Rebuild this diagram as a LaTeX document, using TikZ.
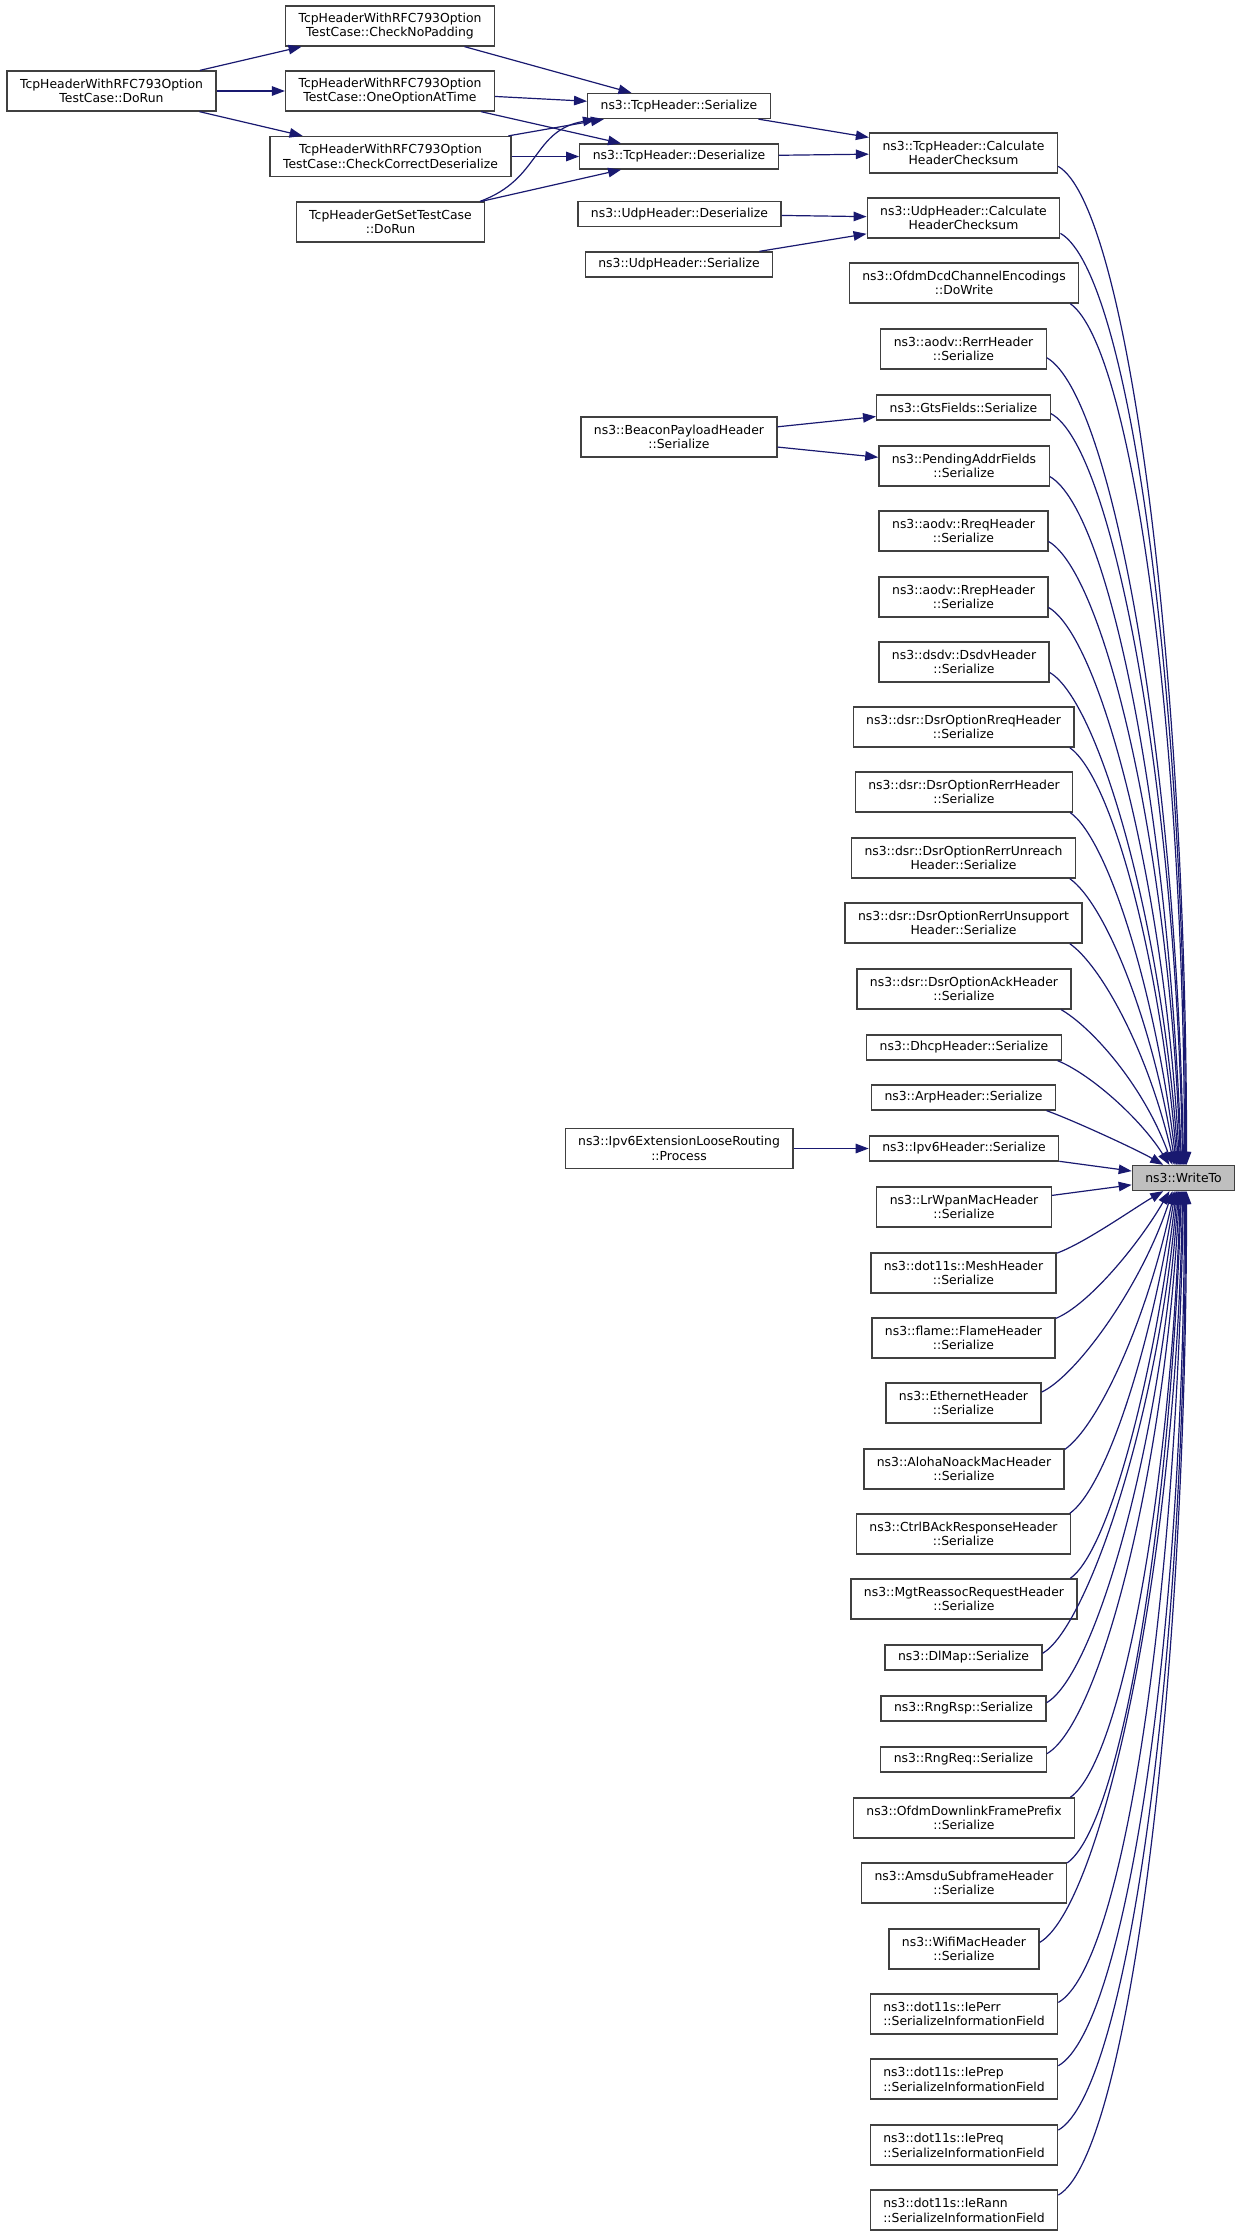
\documentclass[tikz,border=0pt]{standalone}
\usepackage{fontspec}
\setmainfont{DejaVu Sans}
\usepackage{tikz}
\usetikzlibrary{arrows.meta,positioning,calc}
\definecolor{edgeblue}{RGB}{25,25,112}
\definecolor{boxgray}{RGB}{64,64,64}
\tikzset{
    func/.style={draw=boxgray, line width=1.3pt, fill=white, rectangle, inner xsep=13pt, inner ysep=0pt, minimum height=40pt, align=center, font=\fontsize{12.4}{14.7}\selectfont},
    funcone/.style={func, minimum height=25pt},
    funcleft/.style={func, align=left},
    root/.style={funcone, fill=gray!50},
    call/.style={-{Triangle[length=13pt, width=9.5pt]}, edgeblue, line width=1.2pt}
}
\begin{document}
\begin{tikzpicture}[x=1pt, y=1pt]
    \useasboundingbox (0,0) rectangle (1240,-2236);
    \node[func] (dorun) at (111.5,-91) {TcpHeaderWithRFC793Option\\TestCase::DoRun};
    \node[func] (nopad) at (390,-26) {TcpHeaderWithRFC793Option\\TestCase::CheckNoPadding};
    \node[func] (oneopt) at (390,-91) {TcpHeaderWithRFC793Option\\TestCase::OneOptionAtTime};
    \node[func] (correct) at (390.5,-156.5) {TcpHeaderWithRFC793Option\\TestCase::CheckCorrectDeserialize};
    \node[func] (getset) at (390.5,-222) {TcpHeaderGetSetTestCase\\::DoRun};
    \node[funcone] (tcpser) at (679,-106) {ns3::TcpHeader::Serialize};
    \node[funcone] (tcpdes) at (679,-156.5) {ns3::TcpHeader::Deserialize};
    \node[funcone] (udpdes) at (679.5,-214) {ns3::UdpHeader::Deserialize};
    \node[funcone] (udpser) at (679,-264.5) {ns3::UdpHeader::Serialize};
    \node[func] (beacon) at (679,-437) {ns3::BeaconPayloadHeader\\::Serialize};
    \node[func] (ipv6ext) at (679,-1148.5) {ns3::Ipv6ExtensionLooseRouting\\::Process};

    \node[func] (tcpcalc) at (963.5,-153) {ns3::TcpHeader::Calculate\\HeaderChecksum};
    \node[func] (udpcalc) at (963.5,-218) {ns3::UdpHeader::Calculate\\HeaderChecksum};
    \node[func] (ofdmdcd) at (964,-283) {ns3::OfdmDcdChannelEncodings\\::DoWrite};
    \node[func] (rerr) at (963.5,-349) {ns3::aodv::RerrHeader\\::Serialize};
    \node[funcone] (gts) at (963.5,-407.5) {ns3::GtsFields::Serialize};
    \node[func] (pending) at (964,-466) {ns3::PendingAddrFields\\::Serialize};
    \node[func] (rreq) at (963.5,-531) {ns3::aodv::RreqHeader\\::Serialize};
    \node[func] (rrep) at (963.5,-597) {ns3::aodv::RrepHeader\\::Serialize};
    \node[func] (dsdv) at (964,-662) {ns3::dsdv::DsdvHeader\\::Serialize};
    \node[func] (dsrrreq) at (963.5,-727) {ns3::dsr::DsrOptionRreqHeader\\::Serialize};
    \node[func] (dsrrerr) at (964,-792) {ns3::dsr::DsrOptionRerrHeader\\::Serialize};
    \node[func] (unreach) at (963.5,-858) {ns3::dsr::DsrOptionRerrUnreach\\Header::Serialize};
    \node[func] (unsupp) at (963.5,-923) {ns3::dsr::DsrOptionRerrUnsupport\\Header::Serialize};
    \node[func] (dsrack) at (964,-989) {ns3::dsr::DsrOptionAckHeader\\::Serialize};
    \node[funcone] (dhcp) at (964,-1047.5) {ns3::DhcpHeader::Serialize};
    \node[funcone] (arp) at (963.5,-1097.5) {ns3::ArpHeader::Serialize};
    \node[funcone] (ipv6) at (964,-1148.5) {ns3::Ipv6Header::Serialize};
    \node[func] (lrwpan) at (964,-1207) {ns3::LrWpanMacHeader\\::Serialize};
    \node[func] (mesh) at (963.5,-1273) {ns3::dot11s::MeshHeader\\::Serialize};
    \node[func] (flame) at (963.5,-1338) {ns3::flame::FlameHeader\\::Serialize};
    \node[func] (ether) at (963.5,-1403) {ns3::EthernetHeader\\::Serialize};
    \node[func] (aloha) at (964,-1469) {ns3::AlohaNoackMacHeader\\::Serialize};
    \node[func] (ctrlback) at (963.5,-1534) {ns3::CtrlBAckResponseHeader\\::Serialize};
    \node[func] (reassoc) at (964,-1599) {ns3::MgtReassocRequestHeader\\::Serialize};
    \node[funcone] (dlmap) at (963.5,-1657.5) {ns3::DlMap::Serialize};
    \node[funcone] (rngrsp) at (963.5,-1708.5) {ns3::RngRsp::Serialize};
    \node[funcone] (rngreq) at (963.5,-1759.5) {ns3::RngReq::Serialize};
    \node[func] (dlprefix) at (964,-1818) {ns3::OfdmDownlinkFramePrefix\\::Serialize};
    \node[func] (amsdu) at (964,-1883) {ns3::AmsduSubframeHeader\\::Serialize};
    \node[func] (wifimac) at (964,-1949) {ns3::WifiMacHeader\\::Serialize};
    \node[funcleft] (ieperr) at (964,-2014) {ns3::dot11s::IePerr\\::SerializeInformationField};
    \node[funcleft] (ieprep) at (964,-2079) {ns3::dot11s::IePrep\\::SerializeInformationField};
    \node[funcleft] (iepreq) at (964,-2145) {ns3::dot11s::IePreq\\::SerializeInformationField};
    \node[funcleft] (ierann) at (964,-2210) {ns3::dot11s::IeRann\\::SerializeInformationField};

    \node[root] (writeto) at (1183.5,-1178) {ns3::WriteTo};

    \draw[call] (dorun) -- (nopad);
    \draw[call] (dorun) -- (oneopt);
    \draw[call] (dorun) -- (correct);
    \draw[call] (nopad) -- (tcpser);
    \draw[call] (oneopt) -- (tcpser);
    \draw[call] (oneopt) -- (tcpdes);
    \draw[call] (correct) -- (tcpser);
    \draw[call] (correct) -- (tcpdes);
    \draw[call] (getset.13) to[out=20, in=190, distance=65] (tcpser.-171);
    \draw[call] (getset) -- (tcpdes);
    \draw[call] (tcpser) -- (tcpcalc);
    \draw[call] (tcpdes) -- (tcpcalc);
    \draw[call] (udpdes) -- (udpcalc);
    \draw[call] (udpser) -- (udpcalc);
    \draw[call] (beacon) -- (gts);
    \draw[call] (beacon) -- (pending);
    \draw[call] (ipv6ext) -- (ipv6);

    \draw[call] (tcpcalc.-8) to[out=-30, in=90, out distance=80, in distance=500] (writeto.77);
    \draw[call] (udpcalc.-9) to[out=-30, in=90, out distance=80, in distance=470] (writeto.81);
    \draw[call] (ofdmdcd.-11) to[out=-35, in=90, out distance=75, in distance=435] (writeto.86);
    \draw[call] (rerr.-6) to[out=-30, in=91, out distance=75, in distance=405] (writeto.90);
    \draw[call] (gts.-4) to[out=-28, in=91, out distance=70, in distance=375] (writeto.94);
    \draw[call] (pending.-7) to[out=-30, in=92, out distance=70, in distance=345] (writeto.99);
    \draw[call] (rreq.-7) to[out=-30, in=92, out distance=65, in distance=315] (writeto.103);
    \draw[call] (rrep.-7) to[out=-30, in=93, out distance=60, in distance=280] (writeto.107);
    \draw[call] (dsdv.-7) to[out=-30, in=94, out distance=55, in distance=250] (writeto.111);
    \draw[call] (dsrrreq.-11) to[out=-35, in=95, out distance=50, in distance=215] (writeto.115);
    \draw[call] (dsrrerr.-11) to[out=-35, in=97, out distance=45, in distance=180] (writeto.118);
    \draw[call] (unreach.-11) to[out=-35, in=99, out distance=42, in distance=150] (writeto.122);
    \draw[call] (unsupp.-11) to[out=-35, in=103, out distance=38, in distance=118] (writeto.125);
    \draw[call] (dsrack.-12) to[out=-30, in=110, out distance=35, in distance=85] (writeto.130);
    \draw[call] (dhcp.-8) to[out=-22, in=122, out distance=35, in distance=55] (writeto.137);
    \draw[call] (arp.-9) to[out=-20, in=150, out distance=30, in distance=30] (writeto.147);
    \draw[call] (ipv6) -- (writeto);
    \draw[call] (lrwpan) -- (writeto);
    \draw[call] (mesh.12) to[out=20, in=-150, out distance=30, in distance=32] (writeto.-147);
    \draw[call] (flame.12) to[out=22, in=-120, out distance=35, in distance=62] (writeto.-137);
    \draw[call] (ether.8) to[out=25, in=-108, out distance=38, in distance=100] (writeto.-130);
    \draw[call] (aloha.11) to[out=35, in=-102, out distance=40, in distance=135] (writeto.-125);
    \draw[call] (ctrlback.11) to[out=35, in=-99, out distance=42, in distance=170] (writeto.-122);
    \draw[call] (reassoc.11) to[out=35, in=-97, out distance=45, in distance=200] (writeto.-118);
    \draw[call] (dlmap.3) to[out=30, in=-95, out distance=50, in distance=235] (writeto.-115);
    \draw[call] (rngrsp.4) to[out=30, in=-94, out distance=55, in distance=260] (writeto.-111);
    \draw[call] (rngreq.4) to[out=30, in=-93, out distance=60, in distance=285] (writeto.-107);
    \draw[call] (dlprefix.11) to[out=35, in=-92, out distance=62, in distance=305] (writeto.-103);
    \draw[call] (amsdu.11) to[out=35, in=-92, out distance=65, in distance=340] (writeto.-99);
    \draw[call] (wifimac.5) to[out=30, in=-91, out distance=70, in distance=380] (writeto.-94);
    \draw[call] (ieperr.7) to[out=30, in=-91, out distance=75, in distance=410] (writeto.-90);
    \draw[call] (ieprep.8) to[out=30, in=-90, out distance=78, in distance=440] (writeto.-86);
    \draw[call] (iepreq.9) to[out=30, in=-90, out distance=80, in distance=470] (writeto.-81);
    \draw[call] (ierann.9) to[out=30, in=-90, out distance=80, in distance=500] (writeto.-77);
\end{tikzpicture}
\end{document}
